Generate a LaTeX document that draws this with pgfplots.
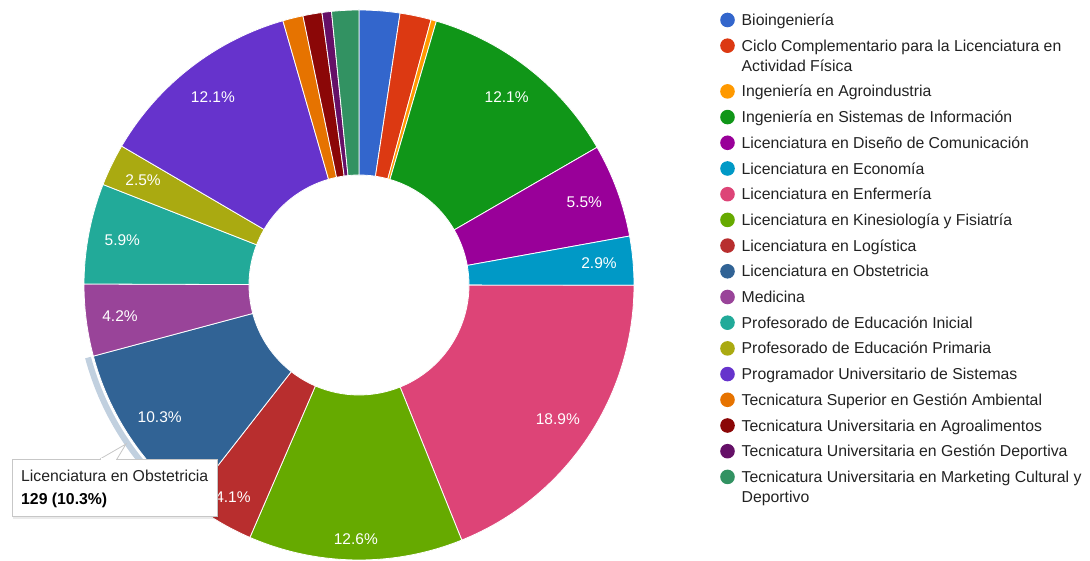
\documentclass[border=0pt]{standalone}
\usepackage{fontspec}
\setmainfont{Liberation Sans}
\usepackage{pgfplots}
\usepackage{pgfplotstable}
\pgfplotsset{compat=1.18}

\definecolor{c1}{HTML}{3366CC}
\definecolor{c2}{HTML}{DC3912}
\definecolor{c3}{HTML}{FF9900}
\definecolor{c4}{HTML}{109618}
\definecolor{c5}{HTML}{990099}
\definecolor{c6}{HTML}{0099C6}
\definecolor{c7}{HTML}{DD4477}
\definecolor{c8}{HTML}{66AA00}
\definecolor{c9}{HTML}{B82E2E}
\definecolor{c10}{HTML}{316395}
\definecolor{c11}{HTML}{994499}
\definecolor{c12}{HTML}{22AA99}
\definecolor{c13}{HTML}{AAAA11}
\definecolor{c14}{HTML}{6633CC}
\definecolor{c15}{HTML}{E67300}
\definecolor{c16}{HTML}{8B0707}
\definecolor{c17}{HTML}{651067}
\definecolor{c18}{HTML}{329262}
\definecolor{legtext}{HTML}{222222}

\newcommand\lbl{\fontsize{15.5}{18}\selectfont}
\newcommand\leg{\fontsize{15.8}{18}\selectfont}

% value = number of students; lr = radius at which the percentage label sits
\pgfplotstableread[col sep=comma]{
name1,name2,lines,value,color,lr
Bioingeniería,-,1,30,c1,240
Ciclo Complementario para la Licenciatura en,Actividad Física,2,23,c2,240
Ingeniería en Agroindustria,-,1,4,c3,240
Ingeniería en Sistemas de Información,-,1,152,c4,239
Licenciatura en Diseño de Comunicación,-,1,69,c5,240
Licenciatura en Economía,-,1,36,c6,241
Licenciatura en Enfermería,-,1,237,c7,240
Licenciatura en Kinesiología y Fisiatría,-,1,158,c8,254
Licenciatura en Logística,-,1,51,c9,247
Licenciatura en Obstetricia,-,1,129,c10,239
Medicina,-,1,53,c11,241
Profesorado de Educación Inicial,-,1,74,c12,241
Profesorado de Educación Primaria,-,1,31,c13,240
Programador Universitario de Sistemas,-,1,152,c14,238
Tecnicatura Superior en Gestión Ambiental,-,1,15,c15,240
Tecnicatura Universitaria en Agroalimentos,-,1,14,c16,240
Tecnicatura Universitaria en Gestión Deportiva,-,1,7,c17,240
Tecnicatura Universitaria en Marketing Cultural y,Deportivo,2,20,c18,240
}\datatable

% ---- precompute slice angles, percentages and legend rows from the table
\def\total{0}
\pgfplotsforeachungrouped \i in {0,...,17}{%
  \pgfplotstablegetelem{\i}{value}\of\datatable
  \pgfmathsetmacro\total{\total+\pgfplotsretval}}
\def\cum{0}
\def\legy{20}
\pgfplotsforeachungrouped \i in {0,...,17}{%
  \pgfplotstablegetelem{\i}{value}\of\datatable
  \let\val\pgfplotsretval
  \pgfmathsetmacro\Sa{90-360*(\cum/\total)}%
  \pgfmathsetmacro\cum{\cum+\val}%
  \pgfmathsetmacro\Sb{90-360*(\cum/\total)}%
  \pgfmathsetmacro\Sm{(\Sa+\Sb)/2}%
  \pgfmathsetmacro\Pct{(\val/\total)*100}%
  \pgfmathtruncatemacro\Flag{\Pct>2.44 ? 1 : 0}%
  \expandafter\xdef\csname Sa\i\endcsname{\Sa}%
  \expandafter\xdef\csname Sb\i\endcsname{\Sb}%
  \expandafter\xdef\csname Sm\i\endcsname{\Sm}%
  \expandafter\xdef\csname Pc\i\endcsname{\Pct}%
  \expandafter\xdef\csname Fl\i\endcsname{\Flag}%
  \expandafter\xdef\csname Sv\i\endcsname{\val}%
  \pgfplotstablegetelem{\i}{color}\of\datatable
  \expandafter\xdef\csname Sc\i\endcsname{\pgfplotsretval}%
  \pgfplotstablegetelem{\i}{lr}\of\datatable
  \expandafter\xdef\csname Lr\i\endcsname{\pgfplotsretval}%
  \pgfplotstablegetelem{\i}{name1}\of\datatable
  \expandafter\xdef\csname Na\i\endcsname{\pgfplotsretval}%
  \pgfplotstablegetelem{\i}{name2}\of\datatable
  \expandafter\xdef\csname Nb\i\endcsname{\pgfplotsretval}%
  \pgfmathsetmacro\Ly{560-\legy}%
  \pgfmathsetmacro\Lb{560-\legy-5.6}%
  \pgfmathsetmacro\Lc{560-\legy-25.6}%
  \expandafter\xdef\csname Ly\i\endcsname{\Ly}%
  \expandafter\xdef\csname Lb\i\endcsname{\Lb}%
  \expandafter\xdef\csname Lc\i\endcsname{\Lc}%
  \pgfplotstablegetelem{\i}{lines}\of\datatable
  \expandafter\xdef\csname Nl\i\endcsname{\pgfplotsretval}%
  \pgfmathsetmacro\legy{\legy+25.7+20*(\pgfplotsretval-1)}%
}

\begin{document}
\begin{tikzpicture}
\begin{axis}[
  x=1pt, y=1pt,
  xmin=0, xmax=1090, ymin=0, ymax=560,
  anchor=south west, at={(0pt,0pt)},
  hide axis, clip=false,
]
% highlight ring of the hovered slice (index 9)
\edef\tmp{\noexpand\fill[fill=c10!30]
  (axis cs:359,275) ++(\csname Sa9\endcsname:277.5pt)
  arc[start angle=\csname Sa9\endcsname, end angle=\csname Sb9\endcsname, radius=277.5pt]
  -- ++(\csname Sb9\endcsname:6pt)
  arc[start angle=\csname Sb9\endcsname, end angle=\csname Sa9\endcsname, radius=283.5pt] -- cycle;}\tmp
% slices
\pgfplotsinvokeforeach{0,...,17}{%
  \edef\tmp{\noexpand\fill[fill=\csname Sc#1\endcsname, draw=white, line width=0.8pt]
    (axis cs:359,275) ++(\csname Sa#1\endcsname:275pt)
    arc[start angle=\csname Sa#1\endcsname, end angle=\csname Sb#1\endcsname, radius=275pt]
    -- ++(\csname Sb#1\endcsname:-165pt)
    arc[start angle=\csname Sb#1\endcsname, end angle=\csname Sa#1\endcsname, radius=110pt] -- cycle;}\tmp
}
% percentage labels
\pgfplotsinvokeforeach{0,...,17}{%
  \ifnum\csname Fl#1\endcsname=1
  \edef\tmp{\noexpand\path (axis cs:359,275) ++(\csname Sm#1\endcsname:\csname Lr#1\endcsname pt)
    node[text=white, font=\noexpand\lbl, inner sep=0pt]
    {\noexpand\pgfmathprintnumber[fixed,fixed zerofill,precision=1,assume math mode=true]{\csname Pc#1\endcsname}\noexpand\%};}\tmp
  \fi
}
% legend
\pgfplotsinvokeforeach{0,...,17}{%
  \edef\tmp{\noexpand\fill[fill=\csname Sc#1\endcsname] (axis cs:727.5,\csname Ly#1\endcsname) circle[radius=7.3pt];}\tmp
  \edef\tmp{\noexpand\node[anchor=base west, inner sep=0pt, text=legtext, font=\noexpand\leg]
    at (axis cs:741.5,\csname Lb#1\endcsname) {\csname Na#1\endcsname};}\tmp
  \ifnum\csname Nl#1\endcsname=2
  \edef\tmp{\noexpand\node[anchor=base west, inner sep=0pt, text=legtext, font=\noexpand\leg]
    at (axis cs:741.5,\csname Lc#1\endcsname) {\csname Nb#1\endcsname};}\tmp
  \fi
}
% tooltip for the hovered slice
\fill[black, opacity=0.08] (axis cs:13,99) rectangle (axis cs:219,41);
\filldraw[fill=white, draw=black!22, line width=0.8pt] (axis cs:12,101) rectangle (axis cs:217,44);
\filldraw[fill=white, draw=black!22, line width=0.8pt] (axis cs:100,101) -- (axis cs:126,116) -- (axis cs:117,101);
\draw[white, line width=1.2pt] (axis cs:101,101) -- (axis cs:116,101);
\edef\tmp{\noexpand\node[anchor=base west, inner sep=0pt, text=legtext, font=\noexpand\leg]
  at (axis cs:21,78.5) {\csname Na9\endcsname};}\tmp
\edef\tmp{\noexpand\node[anchor=base west, inner sep=0pt, text=black, font=\noexpand\leg\noexpand\bfseries]
  at (axis cs:21,55.5) {\csname Sv9\endcsname\space(\noexpand\pgfmathprintnumber[fixed,fixed zerofill,precision=1,assume math mode=true]{\csname Pc9\endcsname}\noexpand\%)};}\tmp
\end{axis}
\pgfresetboundingbox
\path[use as bounding box] (0,0) rectangle (1090pt,560pt);
\end{tikzpicture}
\end{document}
